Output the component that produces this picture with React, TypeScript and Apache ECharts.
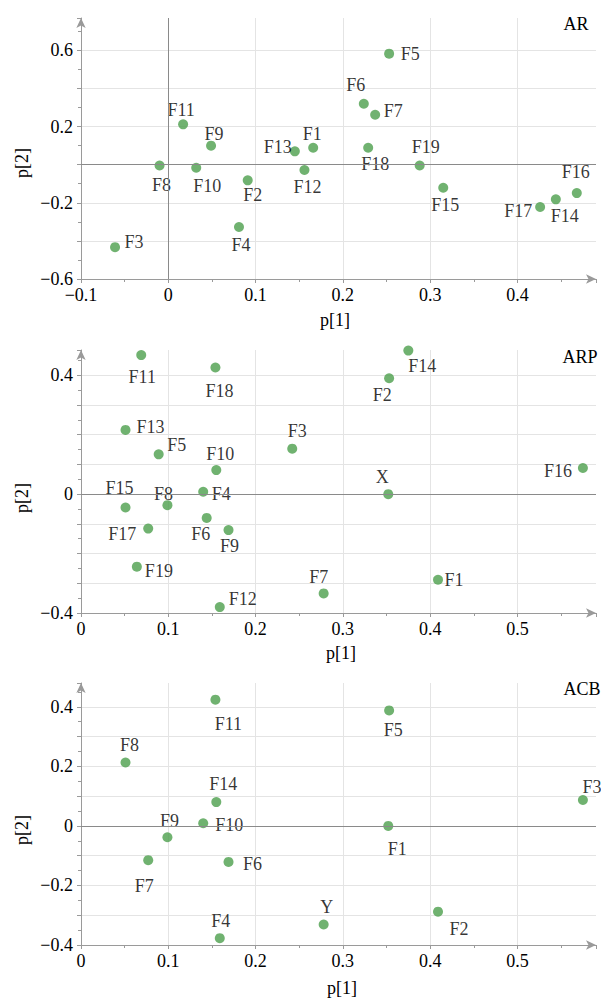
import React, { useEffect, useRef } from "react";
import * as echarts from "echarts";

// ---- AR panel ----
const arNames = ["F1", "F2", "F3", "F4", "F5", "F6", "F7", "F8", "F9", "F10", "F11", "F12", "F13", "F14", "F15", "F16", "F17", "F18", "F19"];
const arP1 = [0.166, 0.091, -0.061, 0.081, 0.253, 0.224, 0.237, -0.01, 0.049, 0.032, 0.017, 0.156, 0.145, 0.444, 0.315, 0.468, 0.426, 0.229, 0.288];
const arP2 = [0.089, -0.082, -0.433, -0.327, 0.583, 0.32, 0.262, -0.004, 0.1, -0.016, 0.212, -0.028, 0.07, -0.182, -0.121, -0.149, -0.222, 0.089, -0.004];
const arLabelOffset = [[-1, -14], [5, 15], [19, -5], [2, 18], [21, 0], [-8, -19], [18, -4], [2, 20], [3, -12], [11, 18], [-2, -14], [3, 17], [-17, -4], [9, 17], [2, 17], [-1, -21], [-22, 4], [7, 16], [6, -18]];

// ---- ARP panel ----
const arpNames = ["F1", "F2", "F3", "F4", "F5", "F6", "F7", "F8", "F9", "F10", "F11", "F12", "F13", "F14", "F15", "F16", "F17", "F18", "F19", "X"];
const arpP1 = [0.409, 0.353, 0.242, 0.14, 0.089, 0.144, 0.278, 0.099, 0.169, 0.155, 0.069, 0.159, 0.051, 0.375, 0.051, 0.575, 0.077, 0.154, 0.064, 0.352];
const arpP2 = [-0.288, 0.39, 0.153, 0.008, 0.134, -0.08, -0.334, -0.037, -0.121, 0.081, 0.468, -0.38, 0.216, 0.483, -0.045, 0.088, -0.116, 0.426, -0.244, 0];
const arpLabelOffset = [[16, 0], [-7, 17], [5, -18], [18, 2], [18, -9], [-6, 16], [-5, -16], [-4, -11], [1, 16], [4, -16], [1, 22], [23, -8], [25, -3], [14, 15], [-6, -20], [-25, 3], [-26, 5], [4, 23], [22, 4], [-6, -17]];

// ---- ACB panel ----
const acbNames = ["F1", "F2", "F3", "F4", "F5", "F6", "F7", "F8", "F9", "F10", "F11", "F14", "Y"];
const acbP1 = [0.352, 0.409, 0.575, 0.159, 0.353, 0.169, 0.077, 0.051, 0.099, 0.14, 0.154, 0.155, 0.278];
const acbP2 = [0, -0.288, 0.087, -0.377, 0.388, -0.121, -0.115, 0.213, -0.038, 0.009, 0.424, 0.08, -0.331];
const acbLabelOffset = [[9, 23], [21, 17], [9, -13], [1, -17], [4, 20], [24, 2], [-4, 26], [4, -17], [2, -16], [26, 2], [13, 24], [7, -18], [3, -17]];

const panelTitles = ["AR", "ARP", "ACB"];
const xName = "p[1]";
const yName = "p[2]";

const FONT = "'Liberation Serif', 'Times New Roman', serif";
const TXT = "#000000";
const AXIS = "#9a9a9a";
const GRID = "#e4e4e4";
const DOT = "#4c9f4c";

function fmt(v: number): string {
  const r = Math.round(v * 10) / 10;
  if (r === 0) return "0";
  const s = String(Math.abs(r));
  return r < 0 ? "\u2212" + s : s;
}

function makeData(names: string[], p1: number[], p2: number[], offs: number[][]) {
  return names.map((n, i) => ({
    name: n,
    value: [p1[i], p2[i]],
    label: { offset: offs[i] },
  }));
}

const axisCommon = {
  axisLine: {
    show: true,
    onZero: false,
    symbol: ["none", "arrow"],
    symbolSize: [7, 10],
    lineStyle: { color: AXIS, width: 1 },
  },
  axisTick: { show: true, length: 4, lineStyle: { color: AXIS } },
  minorTick: { show: true, splitNumber: 2, length: 3, lineStyle: { color: AXIS } },
  splitLine: { show: true, showMaxLine: false, lineStyle: { color: GRID, width: 1 } },
};

export default function App() {
  const ref = useRef<HTMLDivElement>(null);
  useEffect(() => {
    if (!ref.current) return;
    const chart = echarts.init(ref.current, null, { renderer: "svg" });

    const grids = [
      { left: 81, right: 5, top: 18, height: 261 },
      { left: 81, right: 5, top: 350, height: 263 },
      { left: 81, right: 5, top: 683, height: 262 },
    ];

    const xLabel = (v: number) => (Math.round(v * 100) % 10 === 0 ? fmt(v) : "");
    const xAxes = [
      { min: -0.1, max: 0.49 },
      { min: 0, max: 0.59 },
      { min: 0, max: 0.59 },
    ].map((r, i) => ({
      type: "value",
      gridIndex: i,
      min: r.min,
      max: r.max,
      interval: 0.1,
      ...axisCommon,
      axisLabel: {
        margin: 7,
        fontFamily: FONT,
        fontSize: 18,
        color: TXT,
        showMaxLabel: false,
        formatter: xLabel,
      },
    }));

    const yAxes = [
      { min: -0.6, max: 0.77, interval: 0.2, show: (k: number) => k >= -6 && k <= 6 && (k + 6) % 4 === 0 },
      { min: -0.4, max: 0.485, interval: 0.1, show: (k: number) => k % 4 === 0 && k <= 4 },
      { min: -0.4, max: 0.48, interval: 0.1, show: (k: number) => k % 2 === 0 && k <= 4 },
    ].map((r, i) => ({
      type: "value",
      gridIndex: i,
      min: r.min,
      max: r.max,
      interval: r.interval,
      ...axisCommon,
      axisLabel: {
        margin: 8,
        fontFamily: FONT,
        fontSize: 18,
        color: TXT,
        showMaxLabel: false,
        formatter: (v: number) => (r.show(Math.round(v * 10)) ? fmt(v) : ""),
      },
    }));

    const mkSeries = (idx: number, data: any[], zeroX: boolean) => ({
      type: "scatter",
      xAxisIndex: idx,
      yAxisIndex: idx,
      symbol: "circle",
      symbolSize: 10,
      itemStyle: { color: DOT },
      label: {
        show: true,
        position: "inside",
        formatter: "{b}",
        align: "center",
        verticalAlign: "middle",
        fontFamily: FONT,
        fontSize: 18,
        color: TXT,
      },
      markLine: {
        silent: true,
        symbol: ["none", "none"],
        label: { show: false },
        lineStyle: { color: "#8a8a8a", type: "solid", width: 1 },
        data: zeroX ? [{ xAxis: 0 }, { yAxis: 0 }] : [{ yAxis: 0 }],
      },
      data,
    });

    const titleY = [24, 357, 689];
    const titleX = [576, 580, 582];
    const yNameY = [163, 498, 830];
    const xNameX = [335, 341, 342];
    const xNameY = [320, 653, 988];

    const graphics: any[] = [];
    for (let i = 0; i < 3; i++) {
      graphics.push({
        type: "text",
        x: titleX[i],
        y: titleY[i],
        style: { text: panelTitles[i], fontFamily: FONT, fontSize: 18, fill: TXT, align: "center", verticalAlign: "middle" },
      });
      graphics.push({
        type: "text",
        x: 22,
        y: yNameY[i],
        rotation: Math.PI / 2,
        style: { text: yName, fontFamily: FONT, fontSize: 18, fill: TXT, align: "center", verticalAlign: "middle" },
      });
      graphics.push({
        type: "text",
        x: xNameX[i],
        y: xNameY[i],
        style: { text: xName, fontFamily: FONT, fontSize: 18, fill: TXT, align: "center", verticalAlign: "middle" },
      });
    }

    chart.setOption({
      animation: false,
      backgroundColor: "#ffffff",
      grid: grids,
      xAxis: xAxes,
      yAxis: yAxes,
      series: [
        mkSeries(0, makeData(arNames, arP1, arP2, arLabelOffset), true),
        mkSeries(1, makeData(arpNames, arpP1, arpP2, arpLabelOffset), false),
        mkSeries(2, makeData(acbNames, acbP1, acbP2, acbLabelOffset), false),
      ],
      graphic: graphics,
    });
    return () => chart.dispose();
  }, []);

  return (
    <div
      ref={ref}
      style={{ position: "absolute", left: 0, top: 0, width: 601, height: 998 }}
    />
  );
}
